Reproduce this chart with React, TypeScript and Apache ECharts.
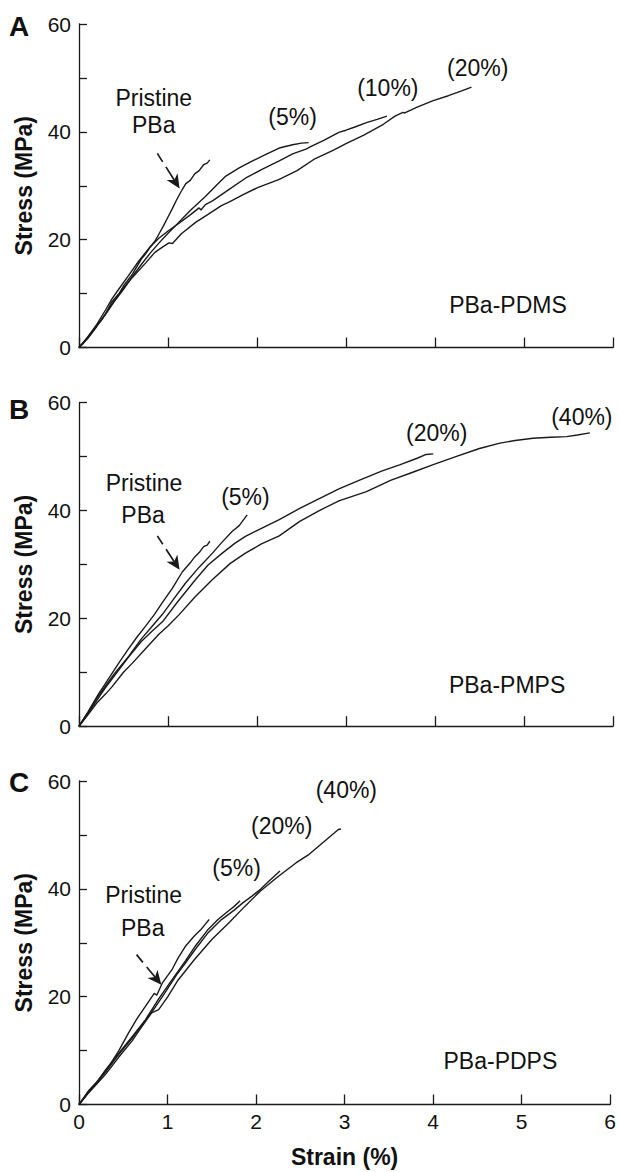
import React, { useEffect, useRef } from "react";
import * as echarts from "echarts";

// ---------- data (strain %, stress MPa) ----------
const pristineA = [[0,0],[0.05,0.8],[0.1,1.9],[0.15,3.0],[0.2,4.1],[0.25,5.0],[0.3,6.3],[0.37,8.5],[0.45,10.0],[0.5,11.4],[0.6,13.6],[0.65,15.0],[0.7,16.4],[0.75,17.4],[0.8,18.6],[0.86,19.9],[0.9,21.1],[0.95,22.6],[1.0,24.2],[1.05,25.8],[1.1,27.5],[1.16,29.3],[1.2,30.4],[1.25,31.0],[1.3,32.2],[1.35,32.8],[1.4,33.9],[1.44,34.2],[1.47,34.8]];
const pdms5 = [[0,0],[0.1,1.8],[0.2,4.0],[0.3,6.2],[0.4,8.6],[0.5,10.8],[0.6,13.2],[0.7,15.4],[0.8,17.5],[0.9,19.4],[1.0,21.2],[1.12,23.2],[1.25,25.4],[1.42,28.0],[1.55,30.2],[1.65,31.8],[1.8,33.3],[1.95,34.6],[2.1,35.8],[2.25,37.0],[2.4,37.6],[2.5,37.9],[2.58,38.0]];
const pdms10 = [[0,0],[0.1,2.0],[0.2,4.3],[0.3,7.0],[0.37,9.0],[0.45,10.9],[0.55,13.2],[0.67,16.0],[0.8,18.7],[0.9,20.3],[1.0,21.6],[1.12,23.0],[1.25,24.6],[1.35,25.9],[1.37,25.5],[1.42,26.5],[1.5,27.2],[1.65,28.9],[1.87,31.4],[2.05,33.0],[2.25,34.6],[2.4,35.9],[2.55,36.8],[2.62,37.4],[2.75,38.4],[2.92,39.9],[3.0,40.3],[3.1,40.9],[3.23,41.7],[3.35,42.3],[3.46,42.9]];
const pdms20 = [[0,0],[0.1,1.7],[0.2,3.9],[0.3,6.3],[0.4,8.8],[0.49,10.8],[0.6,13.0],[0.75,15.7],[0.85,17.6],[0.9,18.2],[1.01,19.4],[1.05,19.3],[1.15,21.1],[1.31,23.2],[1.45,24.7],[1.6,26.3],[1.69,27.0],[1.85,28.4],[2.0,29.6],[2.25,31.2],[2.45,32.8],[2.65,35.0],[2.86,36.6],[3.0,37.8],[3.2,39.4],[3.42,41.4],[3.55,42.9],[3.64,43.6],[3.66,43.5],[3.8,44.6],[3.98,45.8],[4.15,46.7],[4.3,47.6],[4.41,48.3]];

const pristineB = [[0,0],[0.1,2.6],[0.22,6.0],[0.3,8.0],[0.45,11.8],[0.55,14.2],[0.65,16.5],[0.75,18.6],[0.85,20.8],[0.94,23.0],[1.05,25.6],[1.16,28.6],[1.25,30.3],[1.3,31.4],[1.35,32.2],[1.4,33.3],[1.44,33.6],[1.47,34.3]];
const pmps5 = [[0,0],[0.1,2.5],[0.2,5.2],[0.3,7.5],[0.4,9.8],[0.56,13.0],[0.7,16.2],[0.82,18.5],[0.94,20.8],[1.05,23.3],[1.2,26.6],[1.35,29.5],[1.5,32.1],[1.6,34.0],[1.72,36.1],[1.8,37.2],[1.89,39.2]];
const pmps20 = [[0,0],[0.1,2.3],[0.2,4.8],[0.3,7.2],[0.4,9.4],[0.55,12.7],[0.7,15.7],[0.82,17.6],[0.94,19.4],[1.1,22.9],[1.31,27.2],[1.45,29.9],[1.61,32.1],[1.75,33.9],[1.87,35.2],[2.05,36.7],[2.25,38.3],[2.48,40.4],[2.7,42.2],[2.92,44.0],[3.16,45.7],[3.4,47.3],[3.61,48.5],[3.8,49.7],[3.9,50.4],[3.98,50.5]];
const pmps40 = [[0,0],[0.1,2.1],[0.2,4.3],[0.3,6.0],[0.37,7.3],[0.5,10.0],[0.6,11.7],[0.75,14.4],[0.9,17.1],[1.0,18.6],[1.12,20.6],[1.3,23.9],[1.5,27.2],[1.7,30.2],[1.87,32.1],[2.05,33.8],[2.25,35.3],[2.48,38.0],[2.7,40.0],[2.92,41.8],[3.23,43.5],[3.5,45.6],[3.75,47.1],[3.98,48.5],[4.25,50.1],[4.5,51.5],[4.73,52.5],[4.9,53.0],[5.1,53.4],[5.3,53.6],[5.48,53.7],[5.6,54.0],[5.74,54.4]];

const pristineC = [[0,0],[0.05,1.2],[0.1,2.4],[0.2,4.2],[0.34,7.1],[0.45,10.0],[0.56,13.3],[0.65,15.8],[0.75,18.2],[0.85,20.6],[0.88,20.3],[0.94,22.5],[1.05,25.0],[1.12,27.2],[1.2,29.3],[1.3,31.2],[1.38,32.5],[1.43,33.5],[1.47,34.3]];
const pdps5 = [[0,0],[0.1,2.2],[0.2,4.0],[0.3,6.4],[0.45,9.5],[0.6,12.6],[0.75,15.7],[0.9,19.6],[1.05,23.1],[1.2,26.6],[1.31,29.3],[1.45,32.3],[1.57,34.3],[1.68,35.8],[1.75,36.7],[1.82,37.8]];
const pdps20 = [[0,0],[0.1,2.1],[0.2,4.1],[0.3,6.0],[0.45,9.3],[0.6,12.3],[0.75,15.6],[0.85,17.8],[0.97,20.7],[1.1,24.0],[1.2,26.2],[1.31,28.7],[1.45,31.7],[1.61,34.3],[1.75,36.0],[1.85,37.4],[1.95,38.6],[2.05,39.9],[2.15,41.5],[2.27,43.3]];
const pdps40 = [[0,0],[0.1,2.0],[0.2,3.8],[0.3,5.6],[0.45,8.8],[0.6,11.8],[0.7,14.2],[0.82,17.0],[0.9,17.6],[1.0,19.9],[1.12,23.1],[1.3,26.8],[1.5,30.6],[1.7,33.8],[1.87,36.7],[2.05,39.6],[2.25,42.3],[2.45,44.8],[2.6,46.4],[2.7,47.8],[2.8,49.2],[2.88,50.3],[2.93,51.0],[2.96,51.1]];

const panelLetters = ["A", "B", "C"];
const panelSeries = [
  [pristineA, pdms5, pdms10, pdms20],
  [pristineB, pmps5, pmps20, pmps40],
  [pristineC, pdps5, pdps20, pdps40],
];
// labels in data coordinates [strain, stress]
const panelLabels = [
  [["Pristine", 0.84, 46.2], ["PBa", 0.84, 41.2], ["(5%)", 2.40, 42.7], ["(10%)", 3.47, 48.1], ["(20%)", 4.48, 51.8], ["PBa-PDMS", 4.82, 7.9]],
  [["Pristine", 0.73, 45.1], ["PBa", 0.72, 39.2], ["(5%)", 1.87, 42.5], ["(20%)", 4.02, 54.4], ["(40%)", 5.65, 57.4], ["PBa-PMPS", 4.81, 7.7]],
  [["Pristine", 0.73, 38.9], ["PBa", 0.72, 32.8], ["(5%)", 1.78, 43.9], ["(20%)", 2.29, 51.7], ["(40%)", 3.02, 58.3], ["PBa-PDPS", 4.76, 8.0]],
];
// arrow start/end in data coordinates
const panelArrows = [
  [[0.88, 36.0], [1.13, 29.5]],
  [[0.88, 35.3], [1.13, 29.0]],
  [[0.65, 27.8], [0.93, 22.2]],
];

const FONT = "Liberation Sans, Arial, Helvetica, sans-serif";
const INK = "#1a1a1a";
const gridTops = [24, 402.7, 781];
const gridHeight = 323.5;

export default function App() {
  const ref = useRef<HTMLDivElement>(null);
  useEffect(() => {
    if (!ref.current) return;
    const chart = echarts.init(ref.current, undefined, { renderer: "svg" });
    const grids: any[] = [];
    const xAxes: any[] = [];
    const yAxes: any[] = [];
    const series: any[] = [];
    for (let i = 0; i < 3; i++) {
      grids.push({ left: 79, width: 534, top: gridTops[i], height: gridHeight, containLabel: false });
      xAxes.push({
        type: "value", gridIndex: i, min: 0, max: 6, interval: 1,
        axisLine: { show: true, lineStyle: { color: INK, width: 1.3 } },
        axisTick: { show: true, inside: true, length: 10, lineStyle: { color: INK, width: 1.3 } },
        splitLine: { show: false },
        axisLabel: { show: i === 2, fontSize: 21, color: "#111", fontFamily: FONT, margin: 6 },
        name: i === 2 ? "Strain (%)" : "",
        nameLocation: "middle", nameGap: 41,
        nameTextStyle: { fontSize: 23, fontWeight: "bold", color: "#111", fontFamily: FONT },
      });
      yAxes.push({
        type: "value", gridIndex: i, min: 0, max: 60, interval: 10,
        axisLine: { show: true, lineStyle: { color: INK, width: 1.3 } },
        axisTick: { show: true, inside: true, length: 8, lineStyle: { color: INK, width: 1.3 } },
        splitLine: { show: false },
        axisLabel: {
          fontSize: 21, color: "#111", fontFamily: FONT, margin: 8,
          formatter: (v: number) => (v % 20 === 0 ? String(v) : ""),
        },
        name: "Stress (MPa)", nameLocation: "middle", nameGap: 44,
        nameTextStyle: { fontSize: 23, fontWeight: "bold", color: "#111", fontFamily: FONT },
      });
      panelSeries[i].forEach((d, k) => {
        series.push({
          type: "line", xAxisIndex: i, yAxisIndex: i, data: d, showSymbol: false,
          symbol: "none", smooth: false, lineStyle: { color: INK, width: 1.4 },
          silent: true, name: `p${i}s${k}`,
        });
      });
    }
    chart.setOption({
      animation: false,
      backgroundColor: "#fff",
      grid: grids, xAxis: xAxes, yAxis: yAxes, series,
    });

    const graphics: any[] = [];
    const letterY = [26, 409, 782];
    for (let i = 0; i < 3; i++) {
      graphics.push({
        type: "text", x: 9, y: letterY[i],
        style: { text: panelLetters[i], font: `bold 28px ${FONT}`, fill: "#111", align: "left", verticalAlign: "middle" },
      });
      for (const [t, x, y] of panelLabels[i] as any[]) {
        const p = chart.convertToPixel({ gridIndex: i }, [x, y]) as number[];
        graphics.push({
          type: "text", x: p[0], y: p[1],
          style: { text: t, font: `23px ${FONT}`, fill: "#111", align: "center", verticalAlign: "middle" },
        });
      }
      const [s, e] = panelArrows[i];
      const a = chart.convertToPixel({ gridIndex: i }, s) as number[];
      const b = chart.convertToPixel({ gridIndex: i }, e) as number[];
      const dx = b[0] - a[0], dy = b[1] - a[1];
      const len = Math.hypot(dx, dy);
      const ux = dx / len, uy = dy / len;
      const px = -uy, py = ux;
      const L = 14, W = 6.5, N = 4;
      graphics.push({
        type: "line",
        shape: { x1: a[0], y1: a[1], x2: b[0] - ux * (L - N), y2: b[1] - uy * (L - N) },
        style: { stroke: INK, lineWidth: 1.7, lineDash: [10, 6, 80, 0] },
      });
      graphics.push({
        type: "polygon",
        shape: {
          points: [
            [b[0], b[1]],
            [b[0] - ux * L + px * W, b[1] - uy * L + py * W],
            [b[0] - ux * (L - N), b[1] - uy * (L - N)],
            [b[0] - ux * L - px * W, b[1] - uy * L - py * W],
          ],
        },
        style: { fill: INK },
      });
    }
    chart.setOption({ graphic: graphics });
    return () => chart.dispose();
  }, []);
  return (
    <div
      ref={ref}
      style={{ position: "absolute", left: 0, top: 0, width: 619, height: 1172, background: "#fff" }}
    />
  );
}
